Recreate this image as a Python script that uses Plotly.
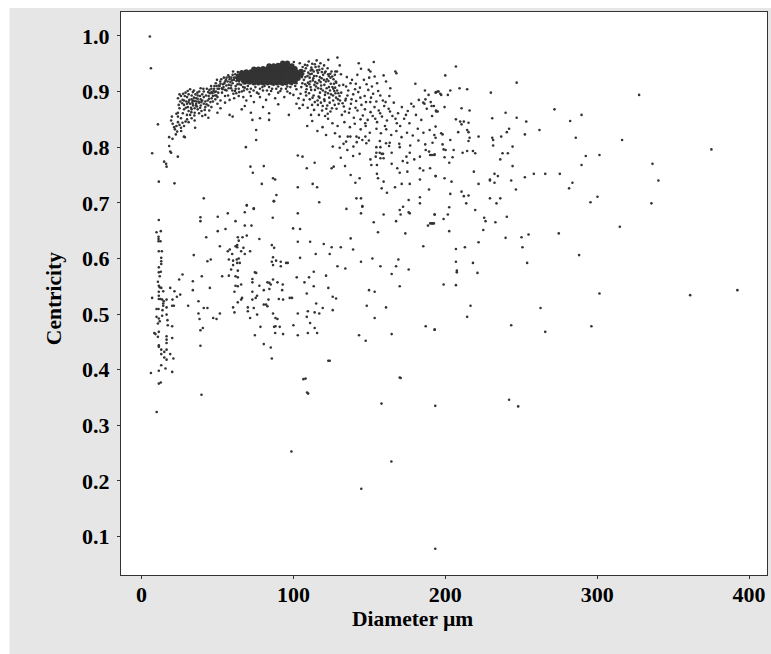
import plotly.graph_objects as go

# (Diameter um, Centricity), region by region
far_right = [(207,.945),(200,.929),(247,.916),(327.6,.894),(193.6,.898),(195,.900),(196.7,.896),(197.3,.894),(203.3,.902),(201.7,.894),(209.4,.906),(214.4,.904),(230,.898),(191,.874),(192.5,.874),(199.5,.872),(210.7,.870),(216,.866),(194,.864),(195,.864),(239.7,.862),(271.9,.868),(289.7,.858),(207,.850),(230.9,.852),(247,.853),(253.3,.846),(282.2,.847),(209.8,.846),(212.2,.846),(210.7,.841),(215.3,.844),(193.6,.837),(214.4,.831),(242,.833),(262,.831),(208.5,.827),(215.3,.827),(240.5,.827),(197.3,.825),(198.2,.823),(252.4,.823),(221.9,.819),(236.8,.819),(193.6,.817),(216,.817),(230.9,.817),(285.9,.817),(203.3,.813),(215.3,.811),(231.5,.813),(316.4,.813),(198.2,.805),(231.5,.803),(244.3,.801),(198.9,.796),(200.2,.795),(205.5,.795),(375.2,.796),(211.4,.790),(214.4,.793),(218.2,.793),(219.7,.789),(237.7,.789),(241.2,.789),(191.2,.786),(192.7,.786),(292.5,.784),(301.5,.786),(199.5,.782),(204.8,.782),(236.2,.778),(202.6,.772),(289.7,.768),(336.4,.770),(244.3,.766),(218.8,.756),(232.4,.752),(258.3,.752),(265.8,.752),(275.4,.752),(193.6,.748),(234.6,.748),(252.4,.746),(199.5,.744),(229.4,.742),(229.4,.740),(243.4,.740),(204.1,.738),(232.4,.736),(283.7,.736),(340.3,.740),(221.9,.734),(281.5,.726),(246.5,.724),(203.3,.716),(210.7,.720),(212.2,.712),(215.3,.713),(229.4,.708),(236.2,.708),(300.2,.711),(295.6,.701),(335.7,.699),(213.8,.699),(233.7,.699),(202.6,.692),(219.7,.687),(193,.679),(201.7,.679),(240.5,.675),(225.6,.673),(198.9,.671),(226.5,.667),(233,.665),(191.2,.663),(192.5,.663),(314.9,.657),(225,.651),(202.6,.649),(254.8,.643),(274.7,.645),(250.2,.638),(239.7,.637),(221.9,.629),(212.9,.620),(250.8,.620),(207,.617),(288.1,.606),(207,.594),(218.2,.592),(253.9,.592),(207.6,.578),(207.6,.575),(221.2,.574),(198.9,.553),(207,.552),(392.3,.543),(301.5,.537),(361.2,.534),(216.6,.515),(262.7,.511),(214.4,.495),(243.4,.480),(296.2,.478),(193,.472),(265.8,.468)]

low_outliers = [(193.4,.078),(144.7,.186),(164.5,.235),(98.7,.253),(193.4,.335),(242,.346),(248,.334),(158,.339),(108,.384),(109,.359),(39.5,.355),(170,.386),(123,.416),(10,.324)]

left_column = [(11.4,.669),(9.9,.647),(12.7,.649),(11.2,.639),(11.2,.635),(11.2,.631),(12.5,.631),(11.4,.613),(13.4,.613),(13,.601),(13,.595),(13,.590),(11.4,.584),(11.4,.575),(12.7,.576),(12,.568),(10.8,.558),(11.4,.551),(12,.548),(13,.547),(11.4,.540),(14.3,.541),(18.9,.547),(21.7,.541),(7,.529),(11.4,.533),(11.4,.527),(12.5,.527),(13.6,.526),(14.7,.523),(14.3,.519),(16.5,.526),(20.4,.526),(23.3,.531),(25.5,.535),(16.5,.512),(14.3,.515),(20.2,.515),(21.3,.515),(9.9,.509),(11.2,.509),(13.8,.507),(9.9,.495),(11.4,.492),(13.6,.497),(16.5,.499),(17.1,.489),(12,.487),(10.8,.483),(17.3,.480),(20.2,.478),(11.4,.468),(8.4,.466),(9.2,.464),(10.8,.459),(16.5,.460),(16.5,.454),(16.5,.448),(20.2,.457),(11.4,.444),(11.4,.441),(16.5,.436),(13,.436),(15,.432),(13,.428),(18.9,.428),(15,.422),(16.5,.418),(21,.420),(13,.408),(15.8,.402),(11.4,.398),(20.2,.396),(6.2,.394),(11.4,.375),(12.7,.377)]

middle = [(27,.571),(24.8,.562),(30.7,.515),(34.4,.606),(33.8,.559),(33.8,.543),(39.7,.568),(37.5,.523),(38.8,.674),(38.8,.667),(42.6,.638),(43.4,.595),(45.6,.598),(45,.547),(41,.511),(43.4,.511),(37.5,.501),(38.2,.491),(40.4,.475),(38.8,.471),(38.8,.443),(50.2,.675),(56.8,.681),(50.2,.649),(55.3,.653),(61.9,.667),(68,.683),(69.3,.695),(73.9,.689),(68,.659),(72.4,.659),(51.6,.622),(63.4,.638),(66.5,.638),(69.3,.641),(64,.632),(77.6,.635),(61.9,.622),(63,.624),(63,.620),(58.1,.616),(56.8,.613),(67.1,.619),(65.6,.613),(68,.608),(59.7,.608),(71.5,.613),(57.5,.598),(60.3,.596),(62.7,.598),(64,.600),(60.3,.588),(63,.592),(64.7,.592),(59,.580),(63.4,.578),(53.1,.568),(57.5,.569),(61.9,.568),(63.4,.566),(65.6,.553),(61.9,.551),(63.4,.550),(61.2,.540),(66.2,.529),(65.6,.526),(63.4,.521),(60.3,.512),(61.2,.503),(47.2,.493),(49.4,.491),(51.6,.501),(70,.512),(73.9,.511),(70,.505),(76.1,.499),(71.5,.493),(78.3,.477),(74.6,.462),(80.5,.446),(85.1,.440),(85.8,.420),(73,.563),(73,.557),(77.6,.551),(73,.540),(80.5,.543),(84.2,.545),(76.1,.533),(75.2,.529),(73,.526),(83.6,.526),(80.5,.517),(82,.517),(82.9,.514),(74.6,.575),(75.5,.574),(82.9,.557),(84.2,.556),(85.1,.553),(86.6,.562),(89.5,.557),(93,.553),(92.6,.543),(90.4,.527),(93.2,.526),(97.6,.529),(99.1,.529),(86.6,.501),(88.2,.493),(89.5,.491),(88.2,.478),(87.3,.477),(91,.477),(88,.466),(93.2,.464),(100,.480),(102.9,.501),(102.9,.462),(108.8,.495),(109.5,.505),(114,.503),(117,.501),(119.3,.511),(115,.519),(111,.484),(114,.475),(109.5,.466),(115.6,.466),(125.9,.507),(125.9,.531),(128.1,.528),(123,.547),(108.8,.537),(113.4,.550),(107.3,.557),(110.3,.566),(102.2,.566),(113.4,.576),(121.5,.569),(86.6,.602),(85.8,.594),(88.6,.596),(91.7,.594),(95.2,.592),(96.3,.592),(86.6,.588),(91.7,.586),(85.8,.624),(87.3,.619),(86.4,.673),(99.8,.654),(104.4,.653),(102.9,.630),(111,.630),(102.9,.681),(120,.626),(114.7,.608),(123.9,.608),(125.2,.620),(131.2,.620),(137.7,.636),(139.3,.616),(104.4,.601),(129,.586),(134.2,.582),(134.9,.689),(144.5,.681),(145.4,.694),(152.9,.665),(159.4,.679),(155.7,.647),(144.5,.594),(152,.600),(157.3,.586),(149.8,.543),(153.5,.540),(148.3,.515),(161,.512),(153.5,.493),(143.2,.462),(147.6,.452),(164.7,.464),(123.9,.416),(106.6,.383),(109.7,.357),(170.6,.385),(187.1,.478),(193,.472),(185.5,.622),(173.7,.645),(167.6,.667),(170.6,.679),(170,.687),(172.2,.693),(175.9,.683),(176.6,.681),(183.3,.699),(193,.679),(188.6,.659),(190.1,.663),(191.5,.663),(169.1,.598),(167.6,.586),(175.9,.580),(164.7,.572),(170,.550),(87,.703),(117,.701)]

upper_scatter = [(5.5,.999),(6.2,.942),(10.8,.841),(7,.789),(11.4,.738),(21.7,.735),(41,.708),(69.3,.696),(73.9,.690),(87.3,.703),(88.8,.714),(14.9,.774),(16.2,.770),(16.5,.765),(18.2,.802),(18.9,.792),(19.5,.790),(23.9,.783),(18.2,.818),(20.4,.815),(22.6,.823),(23.5,.828),(26.1,.829),(27.9,.819),(28.5,.818),(35.3,.835),(68.7,.800),(75.5,.831),(75.5,.813),(71.7,.765),(73.3,.754),(80.5,.766),(79.2,.734),(86.6,.744),(88,.742),(102.9,.728),(112.7,.734),(115.6,.728),(102.9,.785),(106,.783),(108.8,.762),(114,.772),(125.2,.762),(126.5,.765),(134,.766),(125.9,.801),(130.5,.799),(131.2,.781),(137.7,.750),(143.6,.744),(140.8,.736),(141.5,.708),(144.5,.708),(145.4,.693),(155,.752),(155.7,.744),(159.4,.738),(158.1,.726),(161.6,.718),(166.9,.728),(171.3,.734),(176.6,.734),(183.3,.742),(189.3,.724),(183.3,.710),(175.9,.705),(193.7,.748),(151.3,.768),(155,.768),(150.7,.778),(154.2,.783),(157.3,.780),(159.4,.780),(158.1,.788),(154.6,.790),(156.8,.790),(159,.788),(164.7,.790),(170,.800),(161,.807),(163,.802),(157.3,.800),(154.6,.800),(164.7,.770),(168.4,.762),(172,.775),(174.4,.783),(176.6,.790),(175,.772),(170,.754),(175,.756),(183.3,.783),(179.6,.778),(183.3,.762),(185.5,.758),(190,.762),(187.1,.795),(189.3,.792),(190,.786),(193,.787),(139.3,.784),(143.6,.788),(139.5,.801),(135.5,.795),(141.7,.809),(145.4,.813),(148,.807),(147.4,.819),(133,.806),(134.7,.810),(137.5,.819),(141.5,.819),(130.5,.819)]

outer_band = [(180.3,.914),(186.6,.902),(189,.894),(186.9,.886),(185.5,.880),(194,.899),(195.6,.900),(167.1,.936),(167.8,.933),(159.4,.929),(161,.918),(163.8,.906),(153.5,.927),(149.6,.939),(150.7,.936),(152.9,.953),(143,.951),(144.5,.941),(129,.961),(123,.957),(130.5,.947),(128.7,.936),(127.6,.936),
(124.4,.925),(127.9,.918),(131.3,.931),(135.2,.926),(137.6,.915),(141.1,.914),(143.8,.907),(148.2,.913),(151.7,.909),(126.3,.905),(129.6,.897),(132.8,.912),(136.1,.902),(139.4,.895),(142.7,.899),(146.9,.892),(149.3,.903),(152.5,.896),(155.8,.901),(158.9,.884),(163.2,.892),(130.7,.884),(134.5,.887),(133.2,.873),(137.9,.878),(141.3,.883),(144.8,.876),(147.1,.868),(150.6,.881),(153.4,.872),(156.2,.866),(159.8,.874),(162.7,.869),(166.1,.880),(168.9,.861),(171.4,.872),(175.3,.865),(128.4,.869),(131.9,.858),(136.6,.862),(139.8,.853),(142.2,.866),(145.7,.857),(148.9,.849),(152.2,.856),(155.1,.845),(158.3,.855),(161.6,.848),(165.2,.856),(168.1,.843),(172.9,.851),(176.4,.843),(180.7,.858),(184.2,.849),(187.8,.869),(191.3,.856),(179.2,.873),(182.6,.885),(186.3,.878),(190.4,.881),(193.9,.866),(122.8,.851),(125.7,.843),(129.1,.838),(133.6,.845),(137.2,.836),(140.4,.842),(144.3,.832),(147.6,.838),(150.3,.826),(154.7,.833),(157.6,.825),(161.1,.832),(164.4,.822),(167.8,.829),(171.2,.818),(174.8,.826),(178.6,.821),(181.9,.833),(185.6,.826),(189.7,.831),(192.8,.822),(119.2,.836),(115.8,.829),(112.4,.847),(109.1,.838),(121.5,.822),(127.4,.825),(135.8,.819),(143.1,.817),(149.7,.812),(156.9,.811),(163.4,.808),(169.7,.806),(176.9,.803),(182.3,.812),(186.8,.805),(191.6,.808),
(126.1,.893),(129.3,.886),(132.4,.879),(135.6,.893),(138.3,.886),(140.6,.904),(144.1,.889),(147.8,.881),(151.1,.889),(154.6,.882),(157.2,.893),(160.7,.881),(133.9,.864),(137.1,.869),(140.9,.871),(144.2,.850),(147.3,.843),(150.8,.863),(153.9,.851),(157.1,.861),(160.3,.838),(163.6,.864),(167.2,.851),(170.3,.838),(174.1,.858),(177.6,.878),(134.7,.909),(138.6,.921),(142.1,.930),(146.4,.921),(149.9,.925),(155.1,.915)]

dense_shoulder = [(100.3,.953),(104.2,.951),(107.6,.948),(110.1,.954),(112.4,.950),(115.3,.956),(117.8,.951),(120.2,.947),(122.5,.942),(125.1,.936),(127.3,.930),(108.2,.942),(111.4,.938),(114.6,.944),(117.1,.939),(120.7,.934),(123.3,.928),(126.4,.922),(128.2,.916),(106.5,.932),(109.3,.928),(112.1,.932),(115.2,.928),(118.6,.924),(121.4,.918),(124.6,.914),(127.5,.907),(130.2,.911),(106.9,.921),(109.6,.916),(112.8,.920),(115.7,.915),(118.3,.911),(121.9,.906),(124.1,.902),(127.7,.897),(130.4,.892),(105.2,.908),(108.7,.904),(111.3,.908),(114.2,.903),(117.5,.898),(120.8,.894),(123.6,.889),(126.2,.884),(129.8,.878),(108.4,.893),(112.6,.889),(115.9,.884),(118.1,.880),(122.3,.875),(125.4,.870),(104.7,.896),(112.3,.876),(118.9,.866),(122.6,.860),(110.5,.913),(113.8,.912),(116.3,.906),(119.4,.902),(122.8,.897),(113.1,.924),(116.9,.920),(119.6,.930),(122.1,.922),(110.7,.925),(113.4,.936),(116.2,.934),(107.3,.937),(104.8,.938),(125.7,.908),(128.8,.902),(131.5,.898),(134.2,.884),(120.3,.886),(116.6,.891),
(106.1,.944),(109.2,.947),(111.8,.943),(114.1,.949),(116.7,.945),(119.1,.941),(121.2,.936),(124.3,.932),(107.9,.926),(110.9,.931),(113.6,.928),(117.4,.926),(120.1,.921),(123.1,.919),(126.7,.914),(108.8,.910),(111.7,.903),(114.9,.909),(118.2,.905),(121.1,.899),(124.8,.895),(128.1,.889),(110.3,.897),(113.3,.893),(117.2,.889),(120.5,.883),(123.9,.880),(127.2,.876),
(105.9,.915),(107.8,.913),(111.1,.918),(114.4,.917),(117.9,.917),(120.4,.912),(123.4,.908),(126.9,.901),(105.6,.926),(109.8,.934),(112.5,.939),(115.6,.938),(118.7,.935),(122.9,.931),(125.6,.927),(108.1,.899),(110.8,.886),(114.1,.881),(116.1,.876),(119.3,.874),(121.7,.869),(124.4,.864),(106.8,.885),(103.4,.888),(106.2,.876),(109.4,.871),(113.6,.867),(116.8,.858),(120.9,.856),(111.6,.858)]

left_band = [(19.5,.848),(20.5,.842),(21.5,.836),(22,.832),(23,.838),(24,.845),(25,.840),(26,.835),(27,.844),(28,.838),(29,.846),(30,.850),(31,.845),(33,.852),(20,.855),(24,.855),(26,.852),(23,.860),(24,.862),(25,.870),(24.5,.876),(25.5,.882),(24,.888),(26,.892),(25,.895),(27,.885),(28,.876),(28,.868),(28.5,.892),(29,.898),(30,.890),(29.5,.882),(30.5,.872),(31,.865),(32,.858),(33,.868),(32,.878),(31.5,.885),(31,.895),(32,.904),(33,.893),(34,.884),(34,.875),(35,.862),(35,.870),(36,.878),(36,.888),(35.5,.895),(34.5,.902),(37,.868),(37.5,.882),(37,.893),(38,.900),(39,.886),(39,.875),(39.5,.865),(40,.856),(41,.878),(41,.890),(41,.900),(42,.882),(42.5,.893),(43,.905),(44,.875),(44.5,.887),(45,.897),(46,.905),(47,.882),(47,.892),(48,.910),(49,.900),(33.5,.881),(35,.883),(36.5,.873),(38,.880),(38.5,.892),(40,.884),(40,.895),(33,.886),(34.5,.889),(37,.887),(30,.878),(31,.881),(28,.884),(42,.872),(46,.872),(50,.878),(52,.870),(55,.880),(58,.858),
(29.2,.871),(32.6,.871),(35.8,.875),(38.6,.871),(33.7,.878),(36.2,.882),(39.4,.881),(42.8,.877),(45.4,.881),(43.6,.884),(46.2,.888),(48.6,.886),(44.2,.892),(46.7,.897),(49.3,.893),(43.9,.899),(47.4,.901),(50.1,.905),(45.8,.910),(48.9,.915),(51.4,.910),(44.7,.903),(40.7,.905),(38.9,.906),(36.8,.898),(33.8,.899),(30.4,.901),(27.4,.896),(26.8,.879),(27.2,.861),(29.9,.858),(32.8,.863),(41.6,.867),(44.6,.866),(37.9,.861),(34.8,.857)]

rising_band = [(50,.890),(51,.905),(52,.914),(53,.898),(54,.908),(55,.918),(56,.902),(57,.893),(57.5,.912),(58,.922),(59,.906),(60,.915),(60.5,.896),(61,.925),(62,.910),(62.5,.919),(63,.929),(64,.905),(64.5,.913),(65,.924),(50.5,.898),(48.5,.893),(52.5,.922),(54.5,.915),(56,.925),(58.5,.917),(60,.930),(62,.905),(52,.884),(55,.892),(58,.885),(61,.888),(64,.892),(66,.900),(67,.890),(69,.884),(72,.892),(74,.881),(76,.898),(78,.890),(80,.902),(82,.885),(84,.895),(86,.905),(88,.888),(90,.898),(92,.905),(94,.890),(96,.900),(98,.908),(100,.894),(102,.904),(68,.907),(70,.910),(72,.905),(75,.908),(78,.905),(81,.910),(84,.908),(87,.912),(90,.909),(93,.912),(96,.909),(99,.913),(102,.915),(66,.868),(72,.862),(80,.872),(84,.861),(90,.877),(97,.858),(104,.870),(60,.855),(50,.862),(42,.858),(35,.848),(78,.852),(84,.849),(73,.849),(102,.878),(68,.874),(44,.853),
(53.4,.904),(55.9,.911),(56.7,.918),(59.2,.925),(61.7,.931),(63.4,.935),(65.2,.931),(66.3,.918),(66.9,.908),(63.2,.913),(60.9,.921),(58.9,.911),(61.6,.901),(64.3,.899),(67.4,.902),(69.6,.904),(71.2,.899),(73.8,.902),(77.1,.896),(79.6,.908),(82.6,.902),(85.3,.901),(88.7,.905),(91.4,.901),(95.1,.905),(97.8,.897),(101.2,.910),(54.2,.925),(57.1,.929),(60.3,.936),(51.8,.918),(49.7,.921),
(50.8,.911),(52.9,.906),(55.1,.903),(57.4,.906),(59.8,.902),(62.4,.897),(53.7,.913),(55.6,.921),(57.8,.926),(59.6,.920),(62.1,.925),(64.2,.918),(65.6,.912),(47.8,.905),(49.4,.910),(46.1,.899),(48.2,.899)]

# larger dots that fill the solid dark core
core = [(68,.917),(71,.917),(74,.916),(77,.916),(80,.916),(83,.916),(86,.916),(89,.916),(92,.916),(95,.916),(98,.917),(101,.918),
        (64,.923),(67,.923),(70,.923),(73,.923),(76,.923),(79,.923),(82,.923),(85,.923),(88,.923),(91,.923),(94,.923),(97,.923),(100,.923),(103,.924),
        (64,.928),(67,.929),(70,.929),(73,.929),(76,.929),(79,.929),(82,.929),(85,.929),(88,.929),(91,.929),(94,.929),(97,.929),(100,.929),(103,.929),(105,.930),
        (66,.934),(69,.935),(72,.935),(75,.935),(78,.935),(81,.935),(84,.935),(87,.935),(90,.935),(93,.935),(96,.935),(99,.935),(102,.935),(105,.936),
        (74,.940),(77,.940),(80,.941),(83,.941),(86,.941),(89,.941),(92,.941),(95,.941),(98,.941),(101,.941),
        (84,.946),(87,.946),(90,.947),(93,.947),(96,.947),(99,.946),
        (93,.951),(96,.951)]

groups = [far_right, low_outliers, left_column, middle, upper_scatter, outer_band, dense_shoulder, left_band, rising_band]
diameters = [p[0] for g in groups for p in g]
centricity = [p[1] for g in groups for p in g]
core_d = [p[0] for p in core]
core_c = [p[1] for p in core]

x_ticks = [0, 100, 200, 300, 400]
y_ticks = [0.1, 0.2, 0.3, 0.4, 0.5, 0.6, 0.7, 0.8, 0.9, 1.0]

DOT = "#333333"
fig = go.Figure()
fig.add_trace(go.Scatter(x=core_d, y=core_c, mode="markers", showlegend=False, hoverinfo="skip",
                         marker=dict(size=5.5, color=DOT, line_width=0)))
fig.add_trace(go.Scatter(x=diameters, y=centricity, mode="markers", showlegend=False, hoverinfo="skip",
                         marker=dict(size=2.6, color=DOT, line_width=0)))

tick_font = dict(family="Liberation Serif", size=22, color="black", weight=700)
title_font = dict(family="Liberation Serif", size=21.5, color="black", weight=700)
axis = dict(showgrid=False, zeroline=False, showline=True, mirror=True, linecolor="#333333",
            linewidth=1, ticks="outside", ticklen=3, tickcolor="#333333", tickfont=tick_font)
fig.update_layout(
    width=771, height=654, autosize=False,
    margin=dict(l=120.5, r=4, t=12, b=78.5, pad=0),
    paper_bgcolor="white", plot_bgcolor="white",
    shapes=[
        dict(type="rect", xref="paper", yref="paper", x0=-0.1725, x1=1.01, y0=-0.15, y1=1.0071,
             fillcolor="#e6e6e6", line_width=0, layer="below"),
        dict(type="rect", xref="paper", yref="paper", x0=0, x1=1, y0=0, y1=1,
             fillcolor="white", line_width=0, layer="below"),
    ],
    xaxis=dict(axis, range=[-13.5, 411.8], tickvals=x_ticks, ticklabelstandoff=-3),
    yaxis=dict(axis, range=[0.0309, 1.043], tickvals=y_ticks, tickformat=".1f", ticklabelstandoff=3),
    annotations=[
        dict(text="Diameter µm", xref="paper", yref="paper", x=0.451, y=0, yshift=-44,
             yanchor="middle", xanchor="center", showarrow=False, font=title_font),
        dict(text="Centricity", xref="paper", yref="paper", x=0, y=0.49, xshift=-67,
             yanchor="middle", xanchor="center", textangle=-90, showarrow=False, font=title_font),
    ],
)
fig.write_html("out.html", config={"displayModeBar": False},
               post_script="document.body.style.margin='0';document.documentElement.style.overflow='hidden';")
